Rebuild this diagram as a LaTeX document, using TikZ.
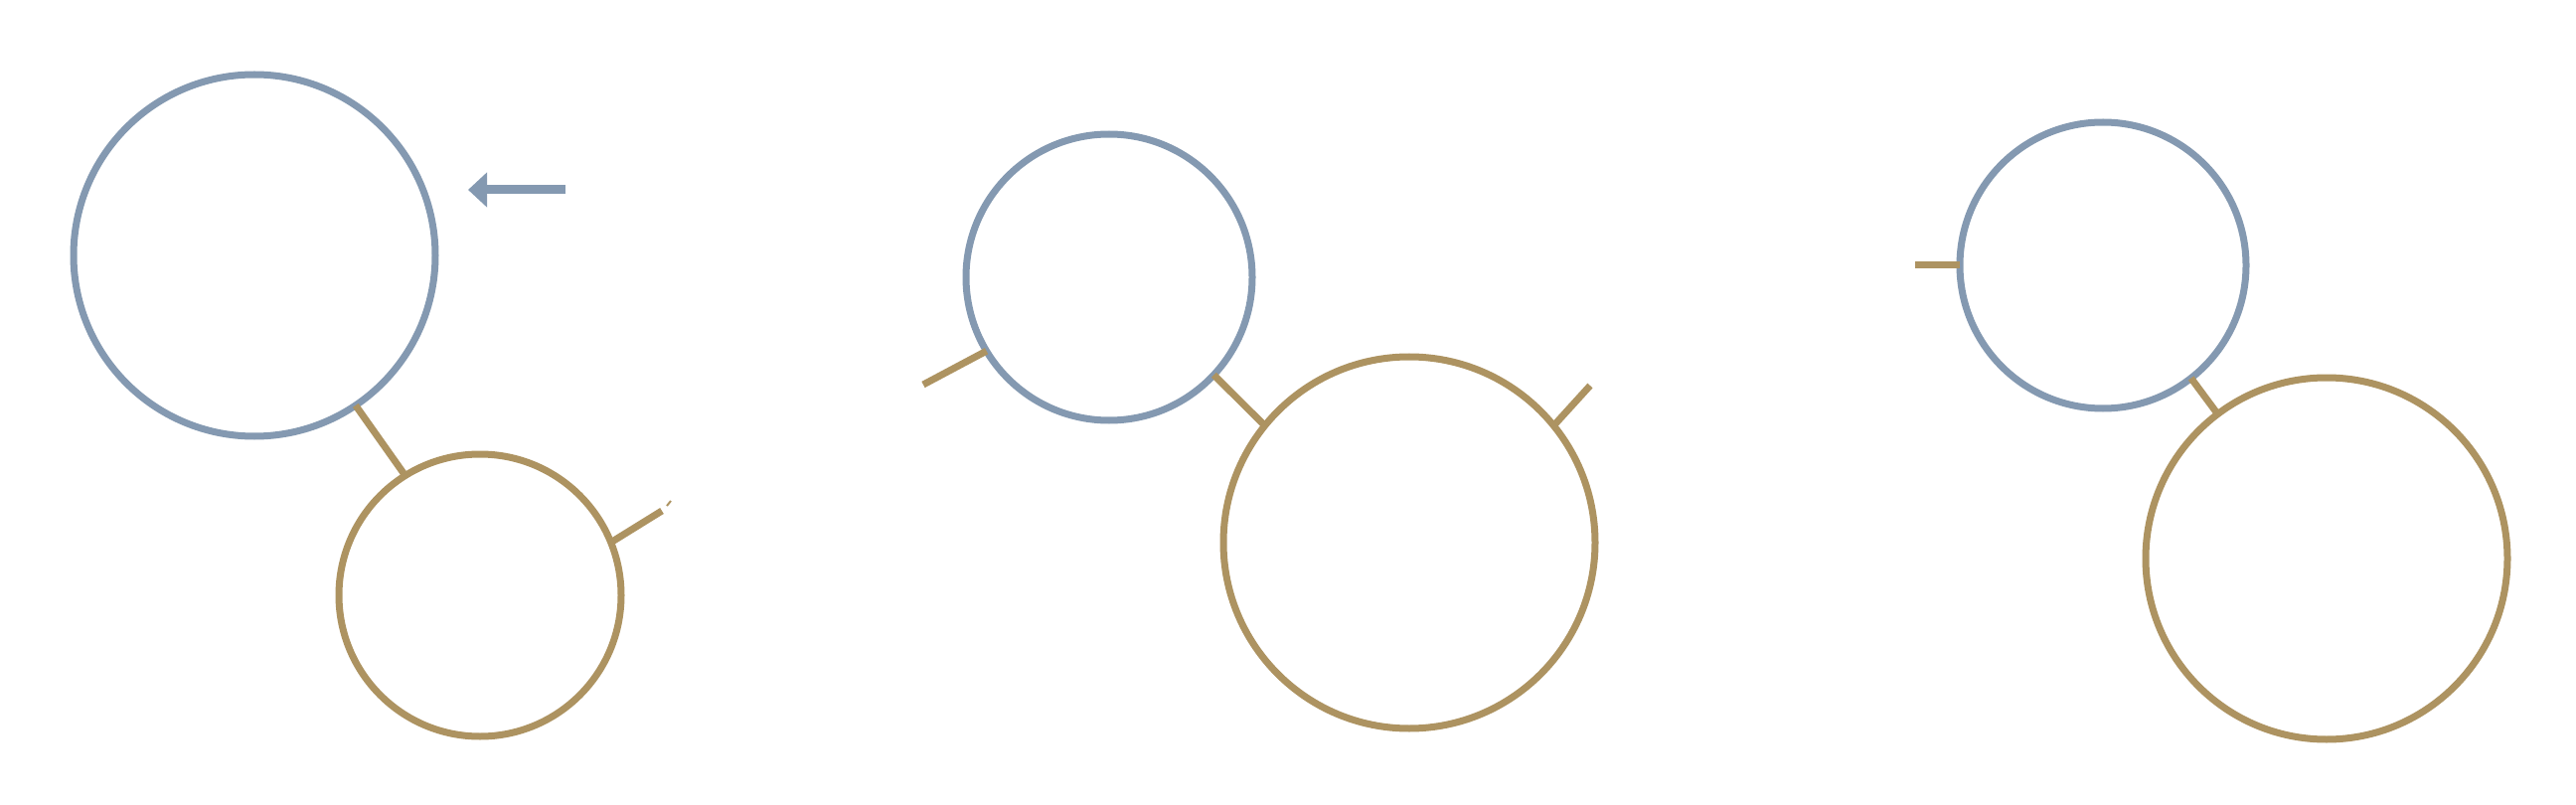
\documentclass[tikz,border=0pt]{standalone}
\usetikzlibrary{arrows.meta}
\definecolor{bl}{HTML}{8499B1}
\definecolor{gd}{HTML}{AD9361}
\begin{document}
\begin{tikzpicture}[x=1pt,y=-1pt,
  ring/.style={circle,draw,line width=7pt,inner sep=0pt,outer sep=0pt},
  bring/.style={ring,draw=bl},
  gring/.style={ring,draw=gd},
  link/.style={draw=gd,line width=7pt}]
\useasboundingbox (0,0) rectangle (2592,810);
\node[bring,minimum size=364pt] (c1) at (256,257) {};
\node[gring,minimum size=284pt] (c2) at (483,599) {};
\node[bring,minimum size=288pt] (c3) at (1116,279) {};
\node[gring,minimum size=374pt] (c4) at (1418,546) {};
\node[bring,minimum size=288pt] (c5) at (2116,267) {};
\node[gring,minimum size=364pt] (c6) at (2341,562) {};
\coordinate (a0) at (569,191);
\coordinate (a1) at (471,191);
\draw[draw=bl,line width=9pt,-{Triangle[length=19pt,width=34pt]}] (a0) -- (a1);
\coordinate (e2) at (666,514);
\coordinate (t1) at (671,509);
\coordinate (t2) at (675,504);
\coordinate (e3) at (929,387);
\coordinate (e4) at (1600,388);
\coordinate (e5) at (1927,267);
\path[link] (c1.-56.3) -- (c2.122.8);
\path[link] (c2.22.2) -- (e2);
\draw[gd,line width=2pt] (t1) -- (t2);
\path[link] (c3.211.2) -- (e3);
\path[link] (c3.-43.3) -- (c4.141.1);
\path[link] (c4.39.1) -- (e4);
\path[link] (c5.180) -- (e5);
\path[link] (c5.-52.6) -- (c6.127.1);
\end{tikzpicture}
\end{document}
